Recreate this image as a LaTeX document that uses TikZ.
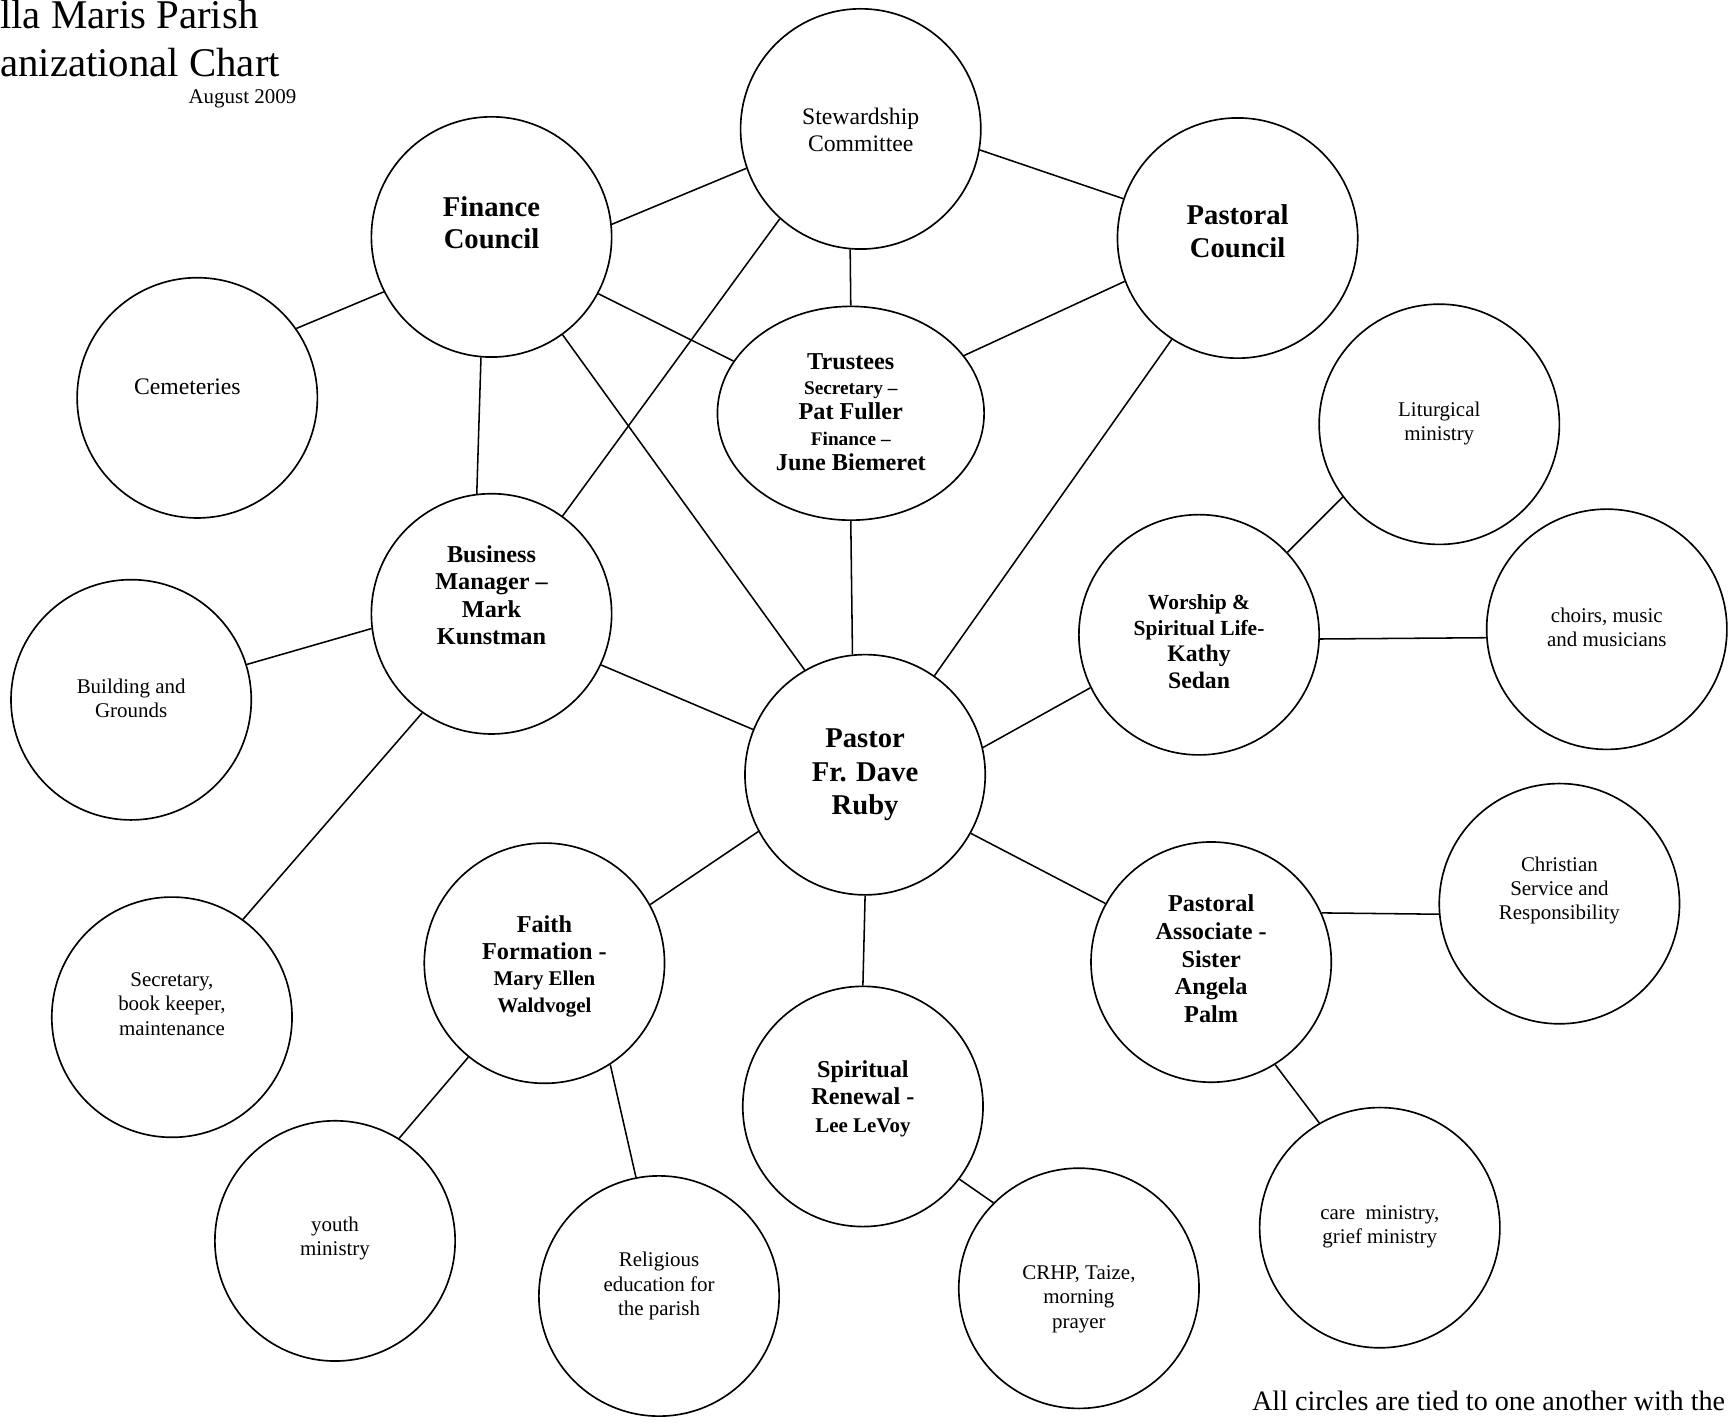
\documentclass[tikz,border=0pt]{standalone}
\usepackage{fontspec}
\setmainfont{Liberation Serif}
\usetikzlibrary{shapes.geometric}
\begin{document}
\begin{tikzpicture}[x=1pt,y=-1pt,
  circ/.style={draw,circle,minimum size=218pt,inner sep=0pt,line width=1.5pt},
  oval/.style={draw,ellipse,minimum width=242pt,minimum height=194pt,inner sep=0pt,line width=1.5pt},
  txt/.style={align=center,inner sep=0pt,font=\fontsize{19}{22}\selectfont},
  txtl/.style={align=center,inner sep=0pt,font=\fontsize{21.5}{25}\selectfont},
  bigb/.style={align=center,inner sep=0pt,font=\bfseries\fontsize{26}{30}\selectfont},
  medb/.style={align=center,inner sep=0pt,font=\bfseries\fontsize{22}{25}\selectfont},
  link/.style={line width=1.4pt}]
\useasboundingbox (0,0) rectangle (1568,1291);

% title
\node[anchor=base west,inner sep=0pt,font=\fontsize{37}{43}\selectfont] (t1) at (0,26) {lla Maris Parish};
\node[anchor=base west,inner sep=0pt,font=\fontsize{37}{43}\selectfont] (t2) at (0,69) {anizational Chart};
\node[anchor=base east,inner sep=0pt,font=\fontsize{19}{22}\selectfont] (t3) at (269,94) {August 2009};
\node[anchor=base west,inner sep=0pt,font=\fontsize{25.5}{30}\selectfont] (foot) at (1136,1280) {All circles are tied to one another with the};

% circles
\node[circ] (stw) at (781,117) {};
\node[circ] (fin) at (446,215) {};
\node[circ] (pc)  at (1123,216) {};
\node[circ] (cem) at (179,361) {};
\node[oval] (tru) at (772,375) {};
\node[circ] (lit) at (1306,385) {};
\node[circ] (bus) at (446,557) {};
\node[circ] (bld) at (119,635) {};
\node[circ] (wor) at (1088,576) {};
\node[circ] (cho) at (1458,571) {};
\node[circ] (pas) at (785,703) {};
\node[circ] (chr) at (1415,820) {};
\node[circ] (sec) at (156,923) {};
\node[circ] (fai) at (494,874) {};
\node[circ] (pa)  at (1099,873) {};
\node[circ] (spi) at (783,1004) {};
\node[circ] (you) at (304,1126) {};
\node[circ] (car) at (1252,1114) {};
\node[circ] (rel) at (598,1176) {};
\node[circ] (crh) at (979,1169) {};

% texts
\node[txtl] (stwt) at (781,118) {Stewardship\\Committee};
\node[bigb,font=\bfseries\fontsize{26}{29}\selectfont] (fint) at (446,202) {Finance\\Council};
\node[bigb] (pct) at (1123,210) {Pastoral\\Council};
\node[txtl] (cemt) at (170,351) {Cemeteries};
\node[align=center,inner sep=0pt,font=\bfseries\fontsize{22}{23}\selectfont] (trut) at (772,374)
  {Trustees\\{\fontsize{17.5}{23}\selectfont Secretary –}\\Pat Fuller\\{\fontsize{17.5}{23}\selectfont Finance –}\\June Biemeret};
\node[txt] (litt) at (1306,384) {Liturgical\\ministry};
\node[medb] (bust) at (446,540) {Business\\Manager –\\Mark\\Kunstman};
\node[txt] (bldt) at (119,634) {Building and\\Grounds};
\node[align=center,inner sep=0pt,font=\bfseries\fontsize{21.5}{24}\selectfont] (wort) at (1088,582)
  {{\fontsize{19.5}{22}\selectfont Worship \&}\\{\fontsize{19.5}{23}\selectfont Spiritual Life-}\\Kathy\\Sedan};
\node[txt] (chot) at (1458,569) {choirs, music\\and musicians};
\node[bigb] (past) at (785,703) {Pastor\\Fr. Dave\\Ruby};
\node[txt] (chrt) at (1415,808) {Christian\\Service and\\Responsibility};
\node[txt] (sect) at (156,911) {Secretary,\\book keeper,\\maintenance};
\node[align=center,inner sep=0pt,font=\bfseries\fontsize{22}{24}\selectfont] (fait) at (494,877)
  {Faith\\Formation -\\{\fontsize{19}{23}\selectfont Mary Ellen}\\{\fontsize{19}{22}\selectfont Waldvogel}};
\node[medb] (pat) at (1099,870) {Pastoral\\Associate -\\Sister\\Angela\\Palm};
\node[align=center,inner sep=0pt,font=\bfseries\fontsize{22}{25}\selectfont] (spit) at (783,997)
  {Spiritual\\Renewal -\\{\fontsize{19}{22}\selectfont Lee LeVoy}};
\node[txt] (yout) at (304,1124) {youth\\ministry};
\node[txt] (cart) at (1252,1113) {care~~ministry,\\grief ministry};
\node[txt] (relt) at (598,1167) {Religious\\education for\\the parish};
\node[txt] (crht) at (979,1179) {CRHP, Taize,\\morning\\prayer};

% connectors
\draw[link] (fin.6) -- (stw.199);
\draw[link] (stw.350) -- (pc.161);
\draw[link] (stw.265) -- (tru.90);
\draw[link] (stw.228) -- (bus.54);
\draw[link] (fin.332) -- (tru.156);
\draw[link] (pc.201) -- (tru.27);
\draw[link] (fin.207) -- (cem.35);
\draw[link] (fin.265) -- (bus.97);
\draw[link] (fin.306) -- (pas.120);
\draw[link] (tru.270) -- (pas.96);
\draw[link] (pc.237) -- (pas.55);
\draw[link] (lit.217) -- (wor.43);
\draw[link] (wor.358.5) -- (cho.184);
\draw[link] (wor.206) -- (pas.13);
\draw[link] (bus.187) -- (bld.17);
\draw[link] (bus.335) -- (pas.158);
\draw[link] (bus.235) -- (sec.54);
\draw[link] (pas.208) -- (fai.29);
\draw[link] (pas.270) -- (spi.90);
\draw[link] (pas.331) -- (pa.151);
\draw[link] (pa.24) -- (chr.185);
\draw[link] (pa.302) -- (car.120);
\draw[link] (fai.231) -- (you.58);
\draw[link] (fai.303) -- (rel.101);
\draw[link] (spi.323) -- (crh.135);
\end{tikzpicture}
\end{document}
